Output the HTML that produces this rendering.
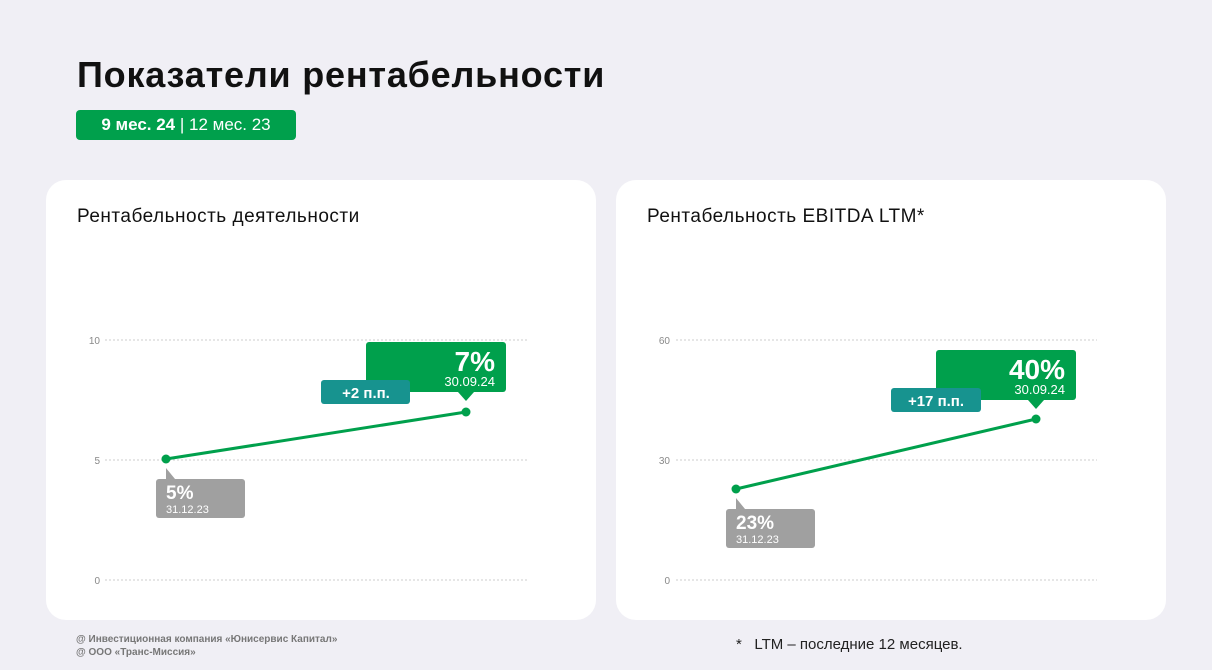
<!DOCTYPE html><html><head><meta charset="utf-8"><style>
body{margin:0;width:1212px;height:670px;background:#f0eff5;font-family:"Liberation Sans",sans-serif;position:relative;overflow:hidden}
.a{position:absolute}
h1{position:absolute;left:77px;top:54px;margin:0;font-size:36px;font-weight:bold;color:#111;letter-spacing:0.8px}
.badge{left:76px;top:110px;width:220px;height:30px;background:#00a04c;border-radius:4px;color:#fff;font-size:17px;line-height:30px;text-align:center}
.card{background:#fff;border-radius:20px;top:180px;width:550px;height:440px}
.ct{font-size:19px;color:#111;top:206px;letter-spacing:0.5px}
.foot{font-size:10px;color:#777;line-height:13px;font-weight:bold}
</style></head><body>
<h1>Показатели рентабельности</h1>
<div class="a badge"><b>9 мес. 24</b> | 12 мес. 23</div>
<div class="a card" style="left:46px"></div>
<div class="a card" style="left:616px"></div>
<div class="a ct" style="left:77px">Рентабельность деятельности</div>
<div class="a ct" style="left:647px">Рентабельность EBITDA LTM*</div>
<svg class="a" style="left:0;top:0" width="1212" height="670" font-family="Liberation Sans,sans-serif">
<g stroke="#ccc" stroke-dasharray="2,2" stroke-width="1">
<line x1="105" x2="527" y1="340" y2="340"/><line x1="105" x2="527" y1="460" y2="460"/><line x1="105" x2="527" y1="580" y2="580"/>
<line x1="676" x2="1097" y1="340" y2="340"/><line x1="676" x2="1097" y1="460" y2="460"/><line x1="676" x2="1097" y1="580" y2="580"/>
</g>
<g fill="#888" font-size="10" text-anchor="end">
<text x="100" y="344">10</text><text x="100" y="464">5</text><text x="100" y="584">0</text>
<text x="670" y="344">60</text><text x="670" y="464">30</text><text x="670" y="584">0</text>
</g>
<line x1="166" y1="459" x2="466" y2="412" stroke="#00a04c" stroke-width="3"/>
<circle cx="166" cy="459" r="4.5" fill="#00a04c"/><circle cx="466" cy="412" r="4.5" fill="#00a04c"/>
<line x1="736" y1="489" x2="1036" y2="419" stroke="#00a04c" stroke-width="3"/>
<circle cx="736" cy="489" r="4.5" fill="#00a04c"/><circle cx="1036" cy="419" r="4.5" fill="#00a04c"/>
<rect x="366" y="342" width="140" height="50" rx="3" fill="#00a04c"/><path d="M458 392 L466 401 L474 392Z" fill="#00a04c"/>
<text x="495" y="371" fill="#fff" font-size="28" font-weight="bold" text-anchor="end">7%</text>
<text x="495" y="386" fill="#fff" font-size="13" text-anchor="end">30.09.24</text>
<rect x="321" y="380" width="89" height="24" rx="3" fill="#17938f"/>
<text x="366" y="398" fill="#fff" font-size="15" font-weight="bold" text-anchor="middle">+2 п.п.</text>
<rect x="156" y="479" width="89" height="39" rx="3" fill="#a0a0a0"/><path d="M166 479 L166 468 L175 479Z" fill="#a0a0a0"/>
<text x="166" y="499" fill="#fff" font-size="19" font-weight="bold">5%</text>
<text x="166" y="513" fill="#fff" font-size="11">31.12.23</text>
<rect x="936" y="350" width="140" height="50" rx="3" fill="#00a04c"/><path d="M1028 400 L1036 409 L1044 400Z" fill="#00a04c"/>
<text x="1065" y="379" fill="#fff" font-size="28" font-weight="bold" text-anchor="end">40%</text>
<text x="1065" y="394" fill="#fff" font-size="13" text-anchor="end">30.09.24</text>
<rect x="891" y="388" width="90" height="24" rx="3" fill="#17938f"/>
<text x="936" y="406" fill="#fff" font-size="15" font-weight="bold" text-anchor="middle">+17 п.п.</text>
<rect x="726" y="509" width="89" height="39" rx="3" fill="#a0a0a0"/><path d="M736 509 L736 498 L745 509Z" fill="#a0a0a0"/>
<text x="736" y="529" fill="#fff" font-size="19" font-weight="bold">23%</text>
<text x="736" y="543" fill="#fff" font-size="11">31.12.23</text>
</svg>
<div class="a foot" style="left:76px;top:633px">@ Инвестиционная компания «Юнисервис Капитал»<br>@ ООО «Транс-Миссия»</div>
<div class="a" style="left:736px;top:636px;font-size:15px;color:#222">*&nbsp;&nbsp;&nbsp;LTM – последние 12 месяцев.</div>
</body></html>
